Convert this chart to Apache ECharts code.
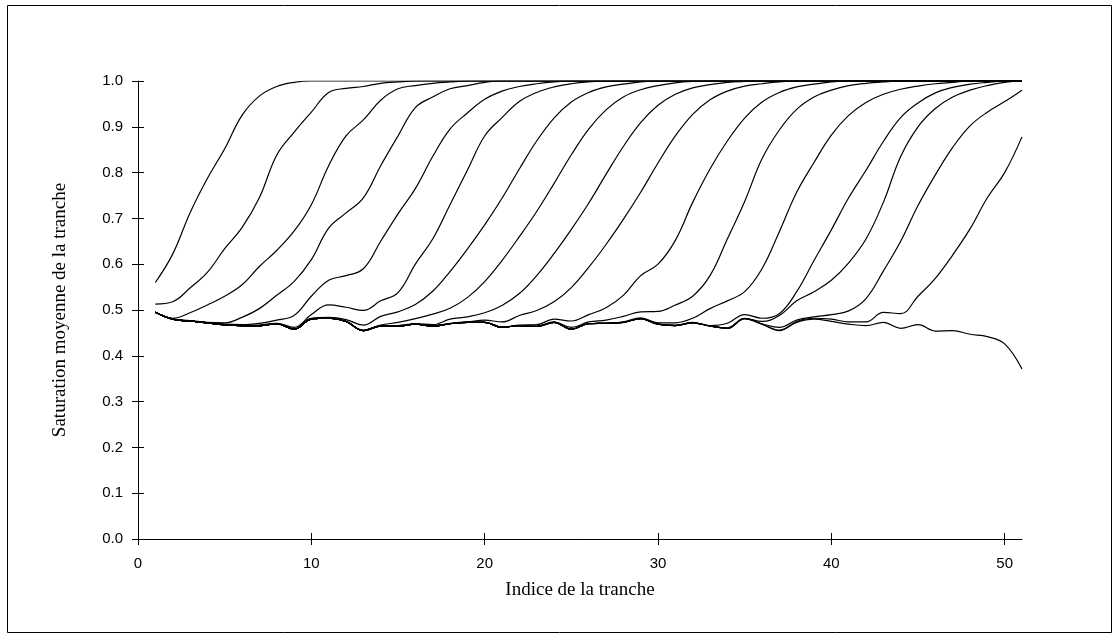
<!DOCTYPE html>
<html>
<head>
<meta charset="utf-8">
<script src="https://cdn.jsdelivr.net/npm/echarts@6/dist/echarts.min.js"></script>
<style>
  html, body { margin: 0; padding: 0; background: #fff; }
  #chart { width: 1120px; height: 639px; }
</style>
</head>
<body>
<div id="chart"></div>
<script>
// slice index (x axis)
var sliceIdx = [1,2,3,4,5,6,7,8,9,10,11,12,13,14,15,16,17,18,19,20,21,22,23,24,25,26,27,28,29,30,
  31,32,33,34,35,36,37,38,39,40,41,42,43,44,45,46,47,48,49,50,51];
var xTicks = [0, 10, 20, 30, 40, 50];

// mean saturation per slice, one profile per time step
var satBase = [0.495,0.480,0.476,0.472,0.468,0.466,0.466,0.470,0.458,0.480,
  0.482,0.475,0.455,0.465,0.465,0.469,0.465,0.470,0.473,0.473,
  0.462,0.466,0.464,0.473,0.458,0.470,0.471,0.473,0.481,0.469,
  0.466,0.472,0.465,0.460,0.481,0.469,0.455,0.473,0.480,0.475,
  0.469,0.466,0.473,0.460,0.468,0.454,0.455,0.447,0.442,0.426,0.371];
var satA = [0.560,0.622,0.712,0.787,0.852,0.925,0.967,0.988,0.997,1,
  1,1,1,1,1,1,1,1,1,1, 1,1,1,1,1,1,1,1,1,1, 1,1,1,1,1,1,1,1,1,1, 1,1,1,1,1,1,1,1,1,1, 1];
var satB = [0.513,0.518,0.548,0.582,0.634,0.680,0.745,0.838,0.888,0.932,
  0.975,0.984,0.988,0.995,0.998,1,1,1,1,1, 1,1,1,1,1,1,1,1,1,1, 1,1,1,1,1,1,1,1,1,1, 1,1,1,1,1,1,1,1,1,1, 1];
var satC = [0.495,0.482,0.494,0.511,0.530,0.555,0.595,0.630,0.672,0.730,
  0.815,0.880,0.915,0.958,0.983,0.990,0.995,0.998,1,1, 1,1,1,1,1,1,1,1,1,1,
  1,1,1,1,1,1,1,1,1,1, 1,1,1,1,1,1,1,1,1,1, 1];
var satD = [0.495,0.480,0.477,0.473,0.472,0.484,0.503,0.532,0.562,0.610,
  0.679,0.712,0.745,0.815,0.880,0.942,0.965,0.983,0.990,0.997,
  1,1,1,1,1,1,1,1,1,1, 1,1,1,1,1,1,1,1,1,1, 1,1,1,1,1,1,1,1,1,1, 1];
var satE = [0.495,0.480,0.476,0.472,0.469,0.468,0.471,0.478,0.488,0.530,
  0.565,0.575,0.590,0.650,0.710,0.765,0.835,0.895,0.930,0.960,
  0.978,0.988,0.994,0.998,1,1,1,1,1,1, 1,1,1,1,1,1,1,1,1,1, 1,1,1,1,1,1,1,1,1,1, 1];
var satF = [0.495,0.480,0.476,0.472,0.468,0.466,0.467,0.471,0.462,0.490,
  0.511,0.506,0.499,0.520,0.538,0.600,0.655,0.730,0.805,0.880,
  0.920,0.955,0.975,0.987,0.994,0.998,1,1,1,1, 1,1,1,1,1,1,1,1,1,1, 1,1,1,1,1,1,1,1,1,1, 1];
var satG = [0.495,0.480,0.476,0.472,0.468,0.466,0.466,0.470,0.459,0.482,
  0.484,0.479,0.467,0.486,0.496,0.512,0.541,0.584,0.633,0.686,
  0.744,0.808,0.869,0.919,0.954,0.975,0.987,0.993,0.998,1,
  1,1,1,1,1,1,1,1,1,1, 1,1,1,1,1,1,1,1,1,1, 1];
var satH = [0.495,0.480,0.476,0.472,0.468,0.466,0.466,0.470,0.458,0.481,
  0.483,0.476,0.456,0.467,0.473,0.481,0.491,0.504,0.527,0.562,
  0.608,0.660,0.715,0.776,0.839,0.895,0.937,0.965,0.981,0.990,
  0.996,0.999,1,1,1,1,1,1,1,1, 1,1,1,1,1,1,1,1,1,1, 1];
var satI = [0.495,0.480,0.476,0.472,0.468,0.466,0.466,0.470,0.458,0.480,
  0.482,0.475,0.455,0.465,0.466,0.470,0.468,0.480,0.485,0.494,
  0.510,0.536,0.575,0.623,0.676,0.733,0.796,0.857,0.909,0.947,
  0.971,0.985,0.992,0.997,0.999,1,1,1,1,1, 1,1,1,1,1,1,1,1,1,1, 1];
var satJ = [0.495,0.480,0.476,0.472,0.468,0.466,0.466,0.470,0.458,0.480,
  0.482,0.475,0.455,0.465,0.465,0.469,0.465,0.471,0.474,0.478,
  0.474,0.488,0.499,0.518,0.549,0.593,0.643,0.698,0.757,0.821,
  0.880,0.927,0.959,0.978,0.989,0.994,0.998,1,1,1, 1,1,1,1,1,1,1,1,1,1, 1];
var satK = [0.495,0.480,0.476,0.472,0.468,0.466,0.466,0.470,0.458,0.480,
  0.482,0.475,0.455,0.465,0.465,0.469,0.465,0.470,0.473,0.473,
  0.463,0.467,0.468,0.480,0.476,0.490,0.505,0.532,0.575,0.600,
  0.652,0.735,0.808,0.869,0.919,0.954,0.975,0.987,0.993,0.998,
  1,1,1,1,1,1,1,1,1,1, 1];
var satL = [0.495,0.480,0.476,0.472,0.468,0.466,0.466,0.470,0.458,0.480,
  0.482,0.475,0.455,0.465,0.465,0.469,0.465,0.470,0.473,0.473,
  0.462,0.466,0.465,0.474,0.462,0.474,0.478,0.486,0.496,0.497,
  0.511,0.530,0.575,0.655,0.737,0.830,0.893,0.938,0.965,0.980,
  0.990,0.995,0.998,1,1,1,1,1,1,1, 1];
var satM = [0.495,0.480,0.476,0.472,0.468,0.466,0.466,0.470,0.458,0.480,
  0.482,0.475,0.455,0.465,0.465,0.469,0.465,0.470,0.473,0.473,
  0.462,0.466,0.464,0.473,0.458,0.470,0.471,0.474,0.483,0.472,
  0.472,0.482,0.503,0.520,0.540,0.590,0.671,0.757,0.822,0.882,
  0.925,0.953,0.971,0.982,0.989,0.994,0.997,1,1,1, 1];
var satN = [0.495,0.480,0.476,0.472,0.468,0.466,0.466,0.470,0.458,0.480,
  0.482,0.475,0.455,0.465,0.465,0.469,0.465,0.470,0.473,0.473,
  0.462,0.466,0.464,0.473,0.458,0.470,0.471,0.473,0.481,0.469,
  0.467,0.473,0.466,0.471,0.490,0.482,0.492,0.540,0.608,0.675,
  0.745,0.805,0.868,0.920,0.952,0.974,0.986,0.993,0.997,1, 1];
var satO = [0.495,0.480,0.476,0.472,0.468,0.466,0.466,0.470,0.458,0.480,
  0.482,0.475,0.455,0.465,0.465,0.469,0.465,0.470,0.473,0.473,
  0.462,0.466,0.464,0.473,0.458,0.470,0.471,0.473,0.481,0.469,
  0.466,0.472,0.465,0.461,0.482,0.475,0.488,0.520,0.540,0.565,
  0.603,0.655,0.735,0.835,0.900,0.940,0.965,0.980,0.990,0.997, 1];
var satP = [0.495,0.480,0.476,0.472,0.468,0.466,0.466,0.470,0.458,0.480,
  0.482,0.475,0.455,0.465,0.465,0.469,0.465,0.470,0.473,0.473,
  0.462,0.466,0.464,0.473,0.458,0.470,0.471,0.473,0.481,0.469,
  0.466,0.472,0.465,0.460,0.481,0.470,0.462,0.478,0.485,0.490,
  0.498,0.525,0.585,0.650,0.728,0.795,0.855,0.902,0.932,0.955, 0.980];
var satQ = [0.495,0.480,0.476,0.472,0.468,0.466,0.466,0.470,0.458,0.480,
  0.482,0.475,0.455,0.465,0.465,0.469,0.465,0.470,0.473,0.473,
  0.462,0.466,0.464,0.473,0.458,0.470,0.471,0.473,0.481,0.469,
  0.466,0.472,0.465,0.460,0.481,0.469,0.456,0.475,0.482,0.480,
  0.474,0.474,0.495,0.492,0.530,0.569,0.620,0.677,0.745,0.800, 0.878];

var profiles = [satBase, satA, satB, satC, satD, satE, satF, satG, satH, satI,
  satJ, satK, satL, satM, satN, satO, satP, satQ];

var chart = echarts.init(document.getElementById("chart"));

var tickFont = { fontFamily: "Liberation Sans", fontSize: 15, color: "#000" };
var nameFont = { fontFamily: "Liberation Serif", fontSize: 19, color: "#000" };
var black = { color: "#000", width: 1 };

chart.setOption({
  animation: false,
  backgroundColor: "#fff",
  grid: { left: 138, right: 98, top: 81, bottom: 100, containLabel: false },
  graphic: [
    {
      type: "rect",
      shape: { x: 7.5, y: 5.5, width: 1104, height: 627 },
      style: { fill: "none", stroke: "#000", lineWidth: 1 }
    }
  ],
  xAxis: [
    {
      type: "value",
      min: 0,
      max: 51,
      position: "bottom",
      name: "Indice de la tranche",
      nameLocation: "middle",
      nameGap: 42,
      nameTextStyle: nameFont,
      axisLine: { show: true, lineStyle: black },
      axisTick: { show: true, inside: true, length: 6, customValues: xTicks, lineStyle: black },
      axisLabel: Object.assign({ customValues: xTicks, margin: 17 }, tickFont),
      splitLine: { show: false }
    },
    {
      // outer half of the crossing ticks
      type: "value",
      min: 0,
      max: 51,
      position: "bottom",
      axisLine: { show: false },
      axisTick: { show: true, inside: false, length: 6, customValues: xTicks, lineStyle: black },
      axisLabel: { show: false },
      splitLine: { show: false }
    }
  ],
  yAxis: [
    {
      type: "value",
      min: 0,
      max: 1,
      interval: 0.1,
      position: "left",
      name: "Saturation moyenne de la tranche",
      nameLocation: "middle",
      nameGap: 68,
      nameRotate: 90,
      nameTextStyle: nameFont,
      axisLine: { show: true, lineStyle: black },
      axisTick: { show: true, inside: true, length: 6, lineStyle: black },
      axisLabel: Object.assign({
        margin: 15,
        formatter: function(v) {
          return v.toFixed(1);
        }
      }, tickFont),
      splitLine: { show: false }
    },
    {
      type: "value",
      min: 0,
      max: 1,
      interval: 0.1,
      position: "left",
      axisLine: { show: false },
      axisTick: { show: true, inside: false, length: 6, lineStyle: black },
      axisLabel: { show: false },
      splitLine: { show: false }
    }
  ],
  series: profiles.map(function(arr) {
    return {
      type: "line",
      xAxisIndex: 0,
      yAxisIndex: 0,
      smooth: 0.4,
      symbol: "none",
      silent: true,
      lineStyle: { color: "#000", width: 1.2 },
      data: arr.map(function(v, i) {
        return [sliceIdx[i], v];
      })
    };
  })
});
</script>
</body>
</html>
